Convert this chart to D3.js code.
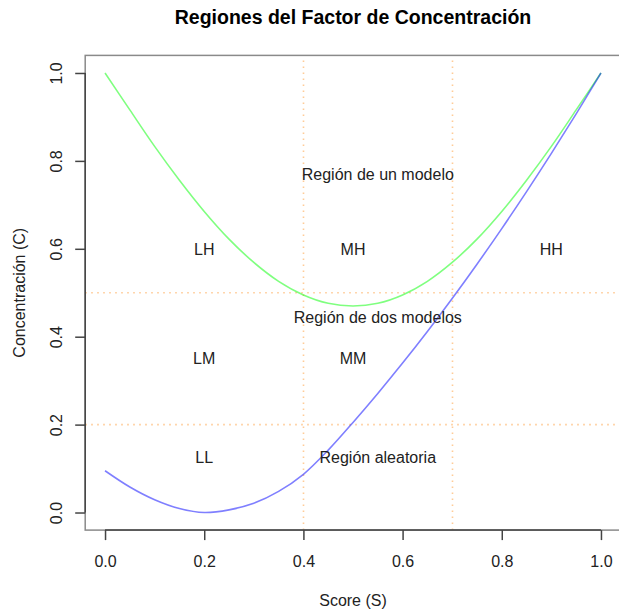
<!DOCTYPE html>
<html>
<head>
<meta charset="utf-8">
<script src="https://cdn.jsdelivr.net/npm/d3@7"></script>
<style>
  html, body { margin: 0; padding: 0; background: #fff; }
  svg { display: block; font-family: "Liberation Sans", Arial, Helvetica, sans-serif; }
</style>
</head>
<body>
<svg id="chart" width="619" height="612"></svg>
<script>
// ---- data ----
const scores = [0, 0.05, 0.10, 0.15, 0.20, 0.25, 0.30, 0.35, 0.40, 0.45, 0.50,
                0.55, 0.60, 0.65, 0.70, 0.75, 0.80, 0.85, 0.90, 0.95, 1.00];
const upperC = [1.000, 0.916, 0.833, 0.756, 0.685, 0.622, 0.569, 0.526, 0.495, 0.476, 0.470,
                0.476, 0.495, 0.526, 0.569, 0.622, 0.685, 0.756, 0.833, 0.916, 1.000];
const lowerC = [0.095, 0.058, 0.029, 0.009, 0.000, 0.006, 0.021, 0.048, 0.087, 0.142, 0.205,
                0.271, 0.340, 0.412, 0.487, 0.565, 0.646, 0.730, 0.817, 0.907, 1.000];
const xTicks = [0, 0.2, 0.4, 0.6, 0.8, 1.0];
const yTicks = [0, 0.2, 0.4, 0.6, 0.8, 1.0];
const vLines = [0.4, 0.7];
const hLines = [0.2, 0.5];
const labelText = ["Región de un modelo", "LH", "MH", "HH", "Región de dos modelos", "LM", "MM", "LL", "Región aleatoria"];
const labelS    = [0.55, 0.2, 0.5, 0.9, 0.55, 0.2, 0.5, 0.2, 0.55];
const labelC    = [0.77, 0.6, 0.6, 0.6, 0.445, 0.35, 0.35, 0.125, 0.125];
const title = "Regiones del Factor de Concentración";
const xTitle = "Score (S)";
const yTitle = "Concentración (C)";

// ---- layout ----
const svg = d3.select("#chart");
const x = d3.scaleLinear().domain([-0.04, 1.04]).range([85.2, 620.8]);
const y = d3.scaleLinear().domain([-0.04, 1.04]).range([530.1, 55.4]);
const fs = 16;

// reference lines (dotted)
const refG = svg.append("g")
  .attr("stroke", "#ff9a30").attr("stroke-opacity", 0.5)
  .attr("stroke-width", 1.6).attr("stroke-dasharray", "1.6,4.4").attr("fill", "none");
refG.selectAll("line.v").data(vLines).join("line").attr("class", "v")
  .attr("x1", d => Math.round(x(d)) + 0.5).attr("x2", d => Math.round(x(d)) + 0.5)
  .attr("y1", y.range()[0]).attr("y2", y.range()[1]);
refG.selectAll("line.h").data(hLines).join("line").attr("class", "h")
  .attr("y1", d => y(d)).attr("y2", d => y(d))
  .attr("x1", x.range()[0]).attr("x2", x.range()[1]);

// curves
const line = d3.line().curve(d3.curveCatmullRom.alpha(0.5)).x(d => x(d[0])).y(d => y(d[1]));
svg.append("path").datum(scores.map((s, i) => [s, upperC[i]]))
  .attr("d", line).attr("fill", "none").attr("stroke", "#00ff00")
  .attr("stroke-opacity", 0.5).attr("stroke-width", 1.6);
svg.append("path").datum(scores.map((s, i) => [s, lowerC[i]]))
  .attr("d", line).attr("fill", "none").attr("stroke", "#0000ff")
  .attr("stroke-opacity", 0.5).attr("stroke-width", 1.6);

// box
svg.append("rect")
  .attr("x", x.range()[0]).attr("y", y.range()[1])
  .attr("width", x.range()[1] - x.range()[0]).attr("height", y.range()[0] - y.range()[1])
  .attr("fill", "none").attr("stroke", "#8a8a8a").attr("stroke-width", 1.5);

// x axis
const xAxisG = svg.append("g").attr("transform", `translate(0,${y.range()[0]})`)
  .call(d3.axisBottom(x).tickValues(xTicks).tickFormat(d3.format(".1f")).tickSize(10).tickSizeOuter(0));
xAxisG.attr("font-family", null).attr("font-size", null);
xAxisG.select(".domain").remove();
xAxisG.append("line").attr("x1", x(xTicks[0])).attr("x2", x(xTicks[xTicks.length - 1]))
  .attr("stroke", "#444").attr("stroke-width", 1.5);
xAxisG.selectAll(".tick line").attr("stroke", "#444").attr("stroke-width", 1.5);
xAxisG.selectAll(".tick text").attr("y", 37).attr("dy", 0)
  .attr("font-size", fs).attr("fill", "#222");

// y axis
const yAxisG = svg.append("g").attr("transform", `translate(${x.range()[0]},0)`)
  .call(d3.axisLeft(y).tickValues(yTicks).tickFormat(d3.format(".1f")).tickSize(10).tickSizeOuter(0));
yAxisG.attr("font-family", null).attr("font-size", null);
yAxisG.select(".domain").remove();
yAxisG.append("line").attr("y1", y(yTicks[0])).attr("y2", y(yTicks[yTicks.length - 1]))
  .attr("stroke", "#444").attr("stroke-width", 1.5);
yAxisG.selectAll(".tick line").attr("stroke", "#444").attr("stroke-width", 1.5);
yAxisG.selectAll(".tick text")
  .attr("transform", "rotate(-90)").attr("x", 0).attr("y", -23.5).attr("dy", 0)
  .attr("text-anchor", "middle").attr("font-size", fs).attr("fill", "#222");

// region labels
svg.append("g").selectAll("text").data(labelText).join("text")
  .attr("x", (d, i) => x(labelS[i])).attr("y", (d, i) => y(labelC[i]))
  .attr("dy", "0.36em").attr("text-anchor", "middle")
  .attr("font-size", fs).attr("fill", "#222").text(d => d);

// titles
svg.append("text").attr("x", (x.range()[0] + x.range()[1]) / 2).attr("y", 23.5)
  .attr("text-anchor", "middle").attr("font-size", 19.5).attr("font-weight", "bold")
  .attr("fill", "#000").text(title);
svg.append("text").attr("x", (x.range()[0] + x.range()[1]) / 2).attr("y", 606)
  .attr("text-anchor", "middle").attr("font-size", fs).attr("fill", "#222").text(xTitle);
svg.append("text")
  .attr("transform", `translate(25,${(y.range()[0] + y.range()[1]) / 2}) rotate(-90)`)
  .attr("text-anchor", "middle").attr("font-size", fs).attr("fill", "#222").text(yTitle);
</script>
</body>
</html>
